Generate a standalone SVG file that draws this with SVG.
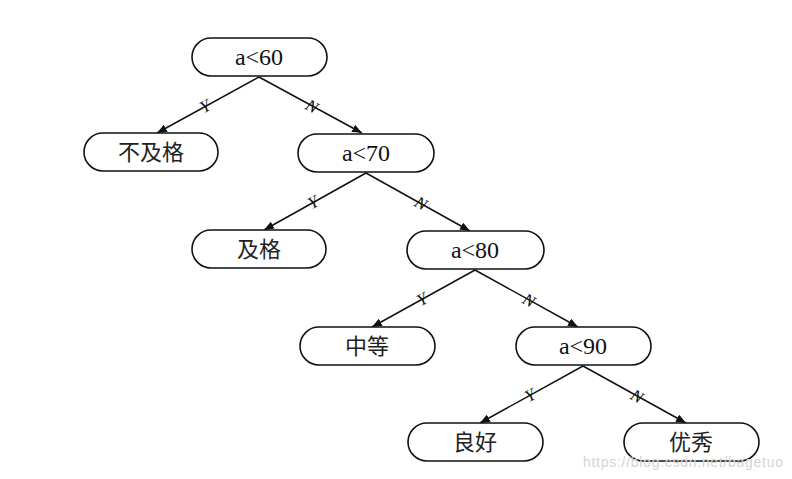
<svg xmlns="http://www.w3.org/2000/svg" width="792" height="479" viewBox="0 0 792 479">
<style>
.box{fill:#fff;stroke:#111;stroke-width:1.6}
.lat{font-family:"Liberation Serif","Times New Roman",serif;font-size:24px;fill:#111;text-anchor:middle}
.cjk{font-family:"Noto Sans CJK SC","Noto Sans CJK JP",sans-serif;font-size:22px;fill:#222;text-anchor:middle}
.edge{stroke:#111;stroke-width:1.5;fill:none;marker-end:url(#arr)}
.lbl{font-family:"Liberation Serif","Times New Roman",serif;font-style:italic;font-size:17px;fill:#111;text-anchor:middle}
.wm{font-family:"Liberation Sans",Arial,sans-serif;font-size:14px;fill:#d4d4d4}
</style>
<defs>
<marker id="arr" viewBox="0 0 10 8" refX="10" refY="4" markerWidth="10" markerHeight="8" markerUnits="userSpaceOnUse" orient="auto">
<path d="M0,0 L10,4 L0,8 z" fill="#111"/>
</marker>
</defs>
<rect width="792" height="479" fill="#fff"/>
<g id="connectors">
<line class="edge" x1="259" y1="77" x2="157" y2="133"/>
<line class="edge" x1="259" y1="77" x2="362" y2="133"/>
<line class="edge" x1="366" y1="173" x2="264" y2="230"/>
<line class="edge" x1="366" y1="173" x2="470" y2="231"/>
<line class="edge" x1="475" y1="270" x2="372" y2="327"/>
<line class="edge" x1="475" y1="270" x2="578" y2="327"/>
<line class="edge" x1="583" y1="366" x2="480" y2="423"/>
<line class="edge" x1="583" y1="366" x2="686" y2="423"/>
<text class="lbl" dy="0.35em" transform="translate(205,106) rotate(-29)">Y</text>
<text class="lbl" dy="0.35em" transform="translate(312,106) rotate(29)">N</text>
<text class="lbl" dy="0.35em" transform="translate(313,202) rotate(-29)">Y</text>
<text class="lbl" dy="0.35em" transform="translate(421,203) rotate(29)">N</text>
<text class="lbl" dy="0.35em" transform="translate(422,299) rotate(-29)">Y</text>
<text class="lbl" dy="0.35em" transform="translate(529,300) rotate(29)">N</text>
<text class="lbl" dy="0.35em" transform="translate(530,395) rotate(-29)">Y</text>
<text class="lbl" dy="0.35em" transform="translate(637,396) rotate(29)">N</text>
</g>
<g id="n-a60"><rect class="box" x="192" y="38" width="135" height="38" rx="19"/><text class="lat" x="259" y="65">a&lt;60</text></g>
<g id="n-fail"><rect class="box" x="84" y="133" width="134" height="38" rx="19"/><text class="cjk" x="151" y="160">不及格</text></g>
<g id="n-a70"><rect class="box" x="298" y="134" width="136" height="38" rx="19"/><text class="lat" x="366" y="161">a&lt;70</text></g>
<g id="n-pass"><rect class="box" x="192" y="230" width="134" height="38" rx="19"/><text class="cjk" x="259" y="257">及格</text></g>
<g id="n-a80"><rect class="box" x="407" y="231" width="137" height="38" rx="19"/><text class="lat" x="475" y="258">a&lt;80</text></g>
<g id="n-mid"><rect class="box" x="300" y="327" width="135" height="38" rx="19"/><text class="cjk" x="367" y="354">中等</text></g>
<g id="n-a90"><rect class="box" x="516" y="327" width="135" height="38" rx="19"/><text class="lat" x="583" y="354">a&lt;90</text></g>
<g id="n-good"><rect class="box" x="408" y="423" width="135" height="38" rx="19"/><text class="cjk" x="475" y="450">良好</text></g>
<g id="n-excellent"><rect class="box" x="624" y="423" width="135" height="38" rx="19"/><text class="cjk" x="691" y="450">优秀</text></g>
<text class="wm" x="583" y="467" textLength="200">https://blog.csdn.net/bagetuo</text>
</svg>
